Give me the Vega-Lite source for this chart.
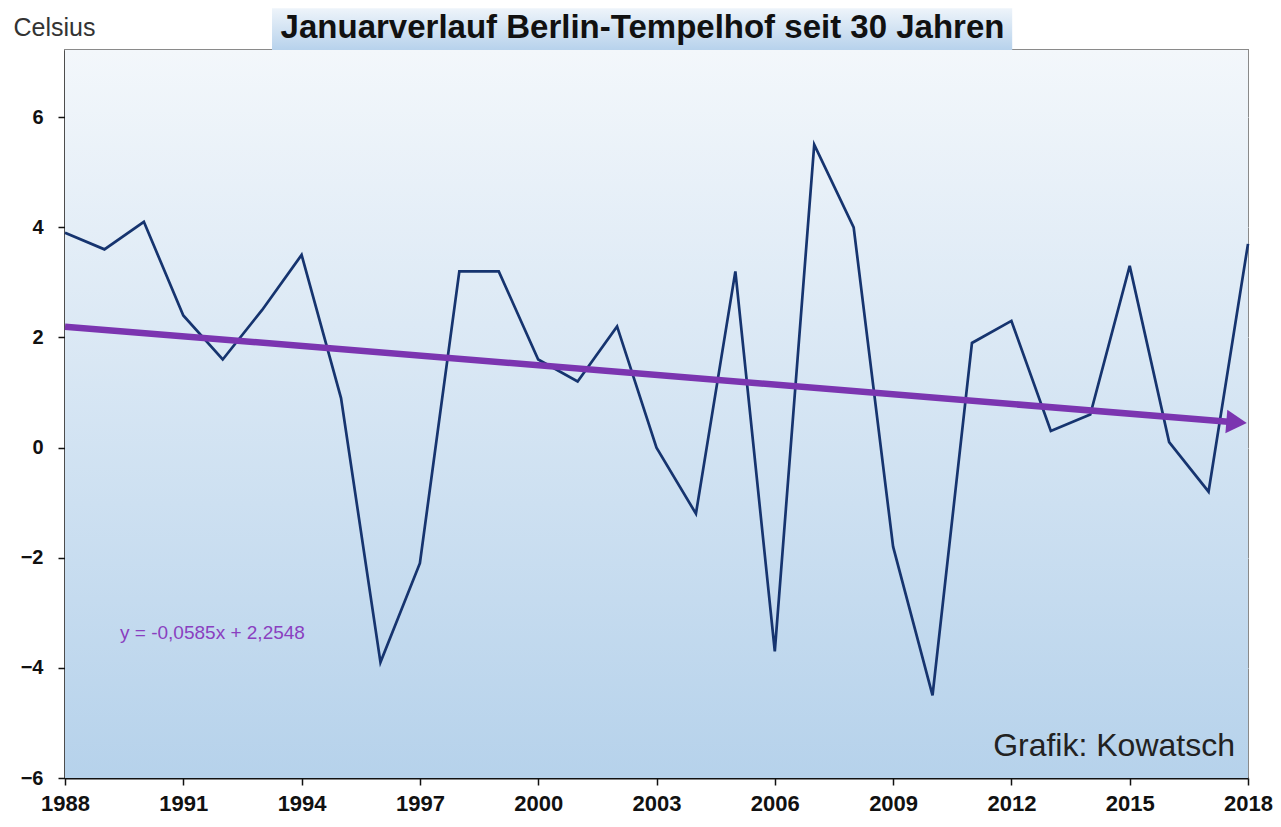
{
  "$schema": "https://vega.github.io/schema/vega-lite/v6.json",
  "autosize": "none",
  "width": 1183,
  "height": 728,
  "padding": {"left": 65, "top": 50, "right": 33, "bottom": 49},
  "background": "white",
  "config": {
    "view": {"stroke": "#8a8a8a", "strokeWidth": 2},
    "axis": {
      "labelFont": "Liberation Sans",
      "labelFontWeight": "bold",
      "labelColor": "#111111",
      "domainColor": "#111111",
      "domainWidth": 2,
      "tickColor": "#111111",
      "tickWidth": 1.5,
      "tickSize": 7
    }
  },
  "datasets": {
    "temps": [
      {"year": 1988, "celsius": 3.9},
      {"year": 1989, "celsius": 3.6},
      {"year": 1990, "celsius": 4.1},
      {"year": 1991, "celsius": 2.4},
      {"year": 1992, "celsius": 1.6},
      {"year": 1993, "celsius": 2.5},
      {"year": 1994, "celsius": 3.5},
      {"year": 1995, "celsius": 0.9},
      {"year": 1996, "celsius": -3.9},
      {"year": 1997, "celsius": -2.1},
      {"year": 1998, "celsius": 3.2},
      {"year": 1999, "celsius": 3.2},
      {"year": 2000, "celsius": 1.6},
      {"year": 2001, "celsius": 1.2},
      {"year": 2002, "celsius": 2.2},
      {"year": 2003, "celsius": 0.0},
      {"year": 2004, "celsius": -1.2},
      {"year": 2005, "celsius": 3.2},
      {"year": 2006, "celsius": -3.7},
      {"year": 2007, "celsius": 5.5},
      {"year": 2008, "celsius": 4.0},
      {"year": 2009, "celsius": -1.8},
      {"year": 2010, "celsius": -4.5},
      {"year": 2011, "celsius": 1.9},
      {"year": 2012, "celsius": 2.3},
      {"year": 2013, "celsius": 0.3},
      {"year": 2014, "celsius": 0.6},
      {"year": 2015, "celsius": 3.3},
      {"year": 2016, "celsius": 0.1},
      {"year": 2017, "celsius": -0.8},
      {"year": 2018, "celsius": 3.7}
    ],
    "trend": [
      {"year": 1988, "celsius": 2.196},
      {"year": 2017.5, "celsius": 0.47}
    ],
    "arrowhead": [
      {"year": 2017.71, "celsius": 0.46}
    ]
  },
  "layer": [
    {
      "data": {"values": [{"x0": 1988, "x1": 2018, "y0": -6, "y1": 7.22}]},
      "mark": {
        "type": "rect",
        "fill": {
          "gradient": "linear", "x1": 0, "y1": 0, "x2": 0, "y2": 1,
          "stops": [
            {"offset": 0, "color": "#f3f7fb"},
            {"offset": 1, "color": "#b6d2eb"}
          ]
        }
      },
      "encoding": {
        "x": {"field": "x0", "type": "quantitative"},
        "x2": {"field": "x1"},
        "y": {"field": "y0", "type": "quantitative"},
        "y2": {"field": "y1"}
      }
    },
    {
      "data": {"values": [{"x0": 1993.25, "x1": 2012.02, "y0": 7.22, "y1": 7.98}]},
      "mark": {
        "type": "rect",
        "clip": false,
        "fill": {
          "gradient": "linear", "x1": 0, "y1": 0, "x2": 0, "y2": 1,
          "stops": [
            {"offset": 0, "color": "#eef4fa"},
            {"offset": 1, "color": "#b7d2ec"}
          ]
        }
      },
      "encoding": {
        "x": {"field": "x0", "type": "quantitative"},
        "x2": {"field": "x1"},
        "y": {"field": "y0", "type": "quantitative"},
        "y2": {"field": "y1"}
      }
    },
    {
      "data": {"values": [{"label": "Januarverlauf Berlin-Tempelhof seit 30 Jahren", "year": 2002.645, "celsius": 7.44}]},
      "mark": {"type": "text", "clip": false, "font": "Liberation Sans", "fontSize": 33, "fontWeight": "bold", "color": "#111111", "align": "center", "baseline": "alphabetic"},
      "encoding": {
        "x": {"field": "year", "type": "quantitative"},
        "y": {"field": "celsius", "type": "quantitative"},
        "text": {"field": "label"}
      }
    },
    {
      "data": {"name": "temps"},
      "mark": {"type": "line", "color": "#16346f", "strokeWidth": 2.7, "strokeJoin": "miter"},
      "encoding": {
        "x": {
          "field": "year", "type": "quantitative",
          "scale": {"domain": [1988, 2018], "nice": false, "zero": false},
          "axis": {
            "title": null,
            "values": [1988, 1991, 1994, 1997, 2000, 2003, 2006, 2009, 2012, 2015, 2018],
            "format": "d",
            "grid": false,
            "labelFontSize": 22,
            "labelPadding": 8,
            "labelFlush": false
          }
        },
        "y": {
          "field": "celsius", "type": "quantitative",
          "scale": {"domain": [-6, 7.22], "nice": false, "zero": false},
          "axis": {
            "title": "Celsius",
            "titleFont": "Liberation Sans",
            "titleFontSize": 25,
            "titleFontWeight": "normal",
            "titleColor": "#333333",
            "titleAngle": 0,
            "titleAlign": "left",
            "titleBaseline": "alphabetic",
            "titleX": -52,
            "titleY": -15,
            "values": [-6, -4, -2, 0, 2, 4, 6],
            "format": "d",
            "grid": true,
            "gridColor": "#dde3ea",
            "gridWidth": 1,
            "labelFontSize": 20,
            "labelPadding": 15
          }
        }
      }
    },
    {
      "data": {"name": "trend"},
      "mark": {"type": "line", "color": "#7b35b0", "strokeWidth": 6.5, "strokeCap": "butt"},
      "encoding": {
        "x": {"field": "year", "type": "quantitative"},
        "y": {"field": "celsius", "type": "quantitative"}
      }
    },
    {
      "data": {"name": "arrowhead"},
      "mark": {"type": "point", "shape": "triangle-right", "filled": true, "color": "#7b35b0", "opacity": 1, "size": 560, "angle": 4.7},
      "encoding": {
        "x": {"field": "year", "type": "quantitative"},
        "y": {"field": "celsius", "type": "quantitative"}
      }
    },
    {
      "data": {"values": [{"label": "y = -0,0585x + 2,2548", "year": 1991.74, "celsius": -3.47}]},
      "mark": {"type": "text", "font": "Liberation Sans", "fontSize": 19, "color": "#8a3fc0", "align": "center", "baseline": "alphabetic"},
      "encoding": {
        "x": {"field": "year", "type": "quantitative"},
        "y": {"field": "celsius", "type": "quantitative"},
        "text": {"field": "label"}
      }
    },
    {
      "data": {"values": [{"label": "Grafik: Kowatsch", "year": 2017.67, "celsius": -5.6}]},
      "mark": {"type": "text", "font": "Liberation Sans", "fontSize": 32, "color": "#222222", "align": "right", "baseline": "alphabetic"},
      "encoding": {
        "x": {"field": "year", "type": "quantitative"},
        "y": {"field": "celsius", "type": "quantitative"},
        "text": {"field": "label"}
      }
    }
  ]
}
